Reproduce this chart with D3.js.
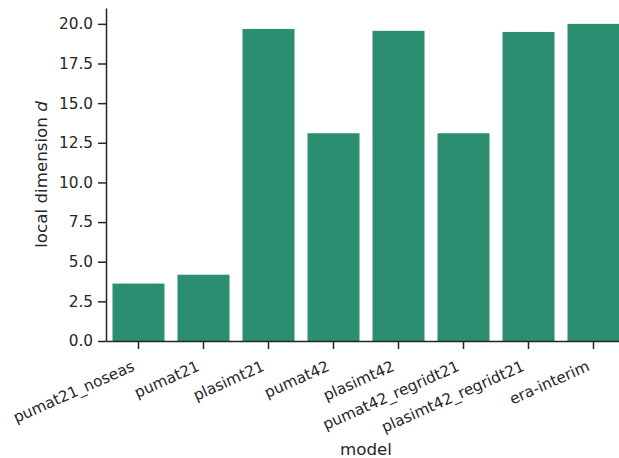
<!DOCTYPE html>
<html lang="en">
<head>
    <meta charset="UTF-8"/>
    <title>local dimension by model</title>
    <script src="https://d3js.org/d3.v7.min.js"></script>
    <style>
        body { margin: 0; background: #fff; }
        text { font-family: "DejaVu Sans", sans-serif; fill: #262626; }
    </style>
</head>
<body>
<div id="chart"></div>
<script>
    let width = 619;
    let height = 458;

    // values
    var models = ["pumat21_noseas", "pumat21", "plasimt21", "pumat42", "plasimt42",
        "pumat42_regridt21", "plasimt42_regridt21", "era-interim"];
    var localDim = [3.62, 4.18, 19.68, 13.1, 19.56, 13.1, 19.49, 20.0];
    var yTicks = [0, 2.5, 5, 7.5, 10, 12.5, 15, 17.5, 20];

    // plot area (named so as not to clash with window.top)
    var mLeft = 106, mRight = 626, mTop = 8, mBottom = 341;

    // seaborn style bars: width 0.8 of the step, half a step at each end
    var xScale = d3.scaleBand().domain(models).range([mLeft, mRight])
        .paddingInner(0.2).paddingOuter(0.1);
    var yScale = d3.scaleLinear().domain([0, 21]).range([mBottom, mTop]);

    var svg = d3.select("#chart").append("svg").attr("width", width).attr("height", height);

    // bars
    svg.selectAll("rect")
        .data(models)
        .enter()
        .append("rect")
        .attr("x", function (d) { return xScale(d); })
        .attr("width", xScale.bandwidth())
        .attr("y", function (d, i) { return yScale(localDim[i]); })
        .attr("height", function (d, i) { return mBottom - yScale(localDim[i]); })
        .attr("fill", "#2b8e70");

    var yAxis = d3.axisLeft(yScale).tickValues(yTicks).tickFormat(d3.format(".1f"))
        .tickSizeInner(8).tickSizeOuter(0).tickPadding(5);
    var xAxis = d3.axisBottom(xScale).tickSizeInner(8).tickSizeOuter(0).tickPadding(4);

    var gy = svg.append("g").attr("transform", "translate(" + mLeft + ",0)").call(yAxis);
    var gx = svg.append("g").attr("transform", "translate(0," + mBottom + ")").call(xAxis);

    [gy, gx].forEach(function (g) {
        g.selectAll("path, line").attr("stroke", "#262626").attr("stroke-width", 1.5);
        g.selectAll("text").style("font-size", "15.3px").attr("fill", "#262626");
    });

    // rotated category labels, right end at tick
    gx.selectAll("text")
        .attr("text-anchor", "end")
        .attr("dy", null)
        .attr("y", 0)
        .attr("transform", "translate(-3,29) rotate(-24)");

    // axis titles
    svg.append("text")
        .attr("text-anchor", "middle")
        .attr("x", (mLeft + mRight) / 2)
        .attr("y", 455)
        .style("font-size", "16.7px")
        .text("model");

    var yl = svg.append("text")
        .attr("text-anchor", "middle")
        .attr("transform", "translate(47," + ((mTop + mBottom) / 2) + ") rotate(-90)")
        .style("font-size", "16.7px");
    yl.append("tspan").text("local dimension ");
    yl.append("tspan").style("font-style", "italic").text("d");
</script>
</body>
</html>
